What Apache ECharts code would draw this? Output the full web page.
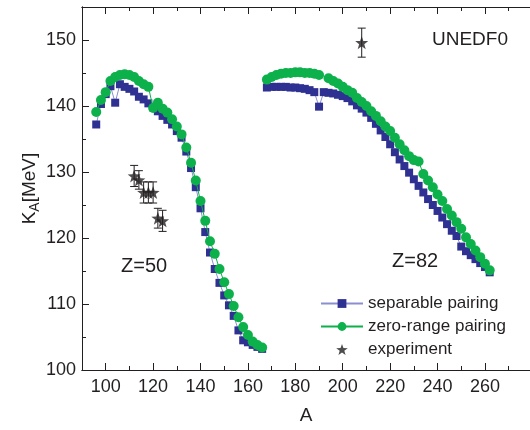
<!DOCTYPE html>
<html><head><meta charset="utf-8">
<script src="https://cdn.jsdelivr.net/npm/echarts@6/dist/echarts.min.js"></script>
<style>html,body{margin:0;padding:0;background:#fff}#c{width:530px;height:430px}</style>
</head><body><div id="c"></div>
<script>
// Z=50 chain
const aLeft = [96,98,100,102,104,106,108,110,112,114,116,118,120,122,124,126,128,130,132,134,136,138,140,142,144,146,148,150,152,154,156,158,160,162,164,166];
const sepLeft = [137.2,140.3,141.8,143.0,140.5,143.3,142.9,142.6,142.2,141.4,141.0,140.4,139.8,139.2,138.5,137.9,137.2,136.2,135.2,133.1,130.6,127.7,124.5,120.9,117.8,115.3,113.2,111.3,109.8,108.2,106.0,104.5,104.2,103.8,103.5,103.2];
const zeroLeft = [139.1,140.9,142.1,143.8,144.4,144.7,144.8,144.7,144.4,143.8,143.3,142.9,139.7,140.5,139.6,139.0,138.0,136.9,135.7,133.7,131.4,128.7,125.6,122.6,119.5,117.6,115.3,113.3,111.5,109.7,108.0,106.5,105.3,104.3,103.8,103.4];
// Z=82 chain
const aRight = [168,170,172,174,176,178,180,182,184,186,188,190,192,194,196,198,200,202,204,206,208,210,212,214,216,218,220,222,224,226,228,230,232,234,236,238,240,242,244,246,248,250,252,254,256,258,260,262];
const sepRight = [142.8,142.9,142.9,142.9,142.9,142.8,142.8,142.7,142.6,142.4,142.1,139.9,142.1,142.0,141.9,141.7,141.5,141.2,140.7,140.1,139.6,139.0,138.2,137.3,136.3,135.3,134.2,133.0,131.9,130.9,129.9,128.9,127.9,126.9,125.9,125.0,124.1,123.1,122.1,121.1,120.3,118.7,118.0,117.4,116.8,116.2,115.6,114.8];
const zeroRight = [144.0,144.4,144.7,144.9,145.0,145.0,145.1,145.1,145.0,145.0,144.9,144.7,null,144.2,143.8,143.4,142.9,142.4,142.0,141.2,140.6,140.0,139.2,138.5,137.7,136.9,136.2,135.2,134.2,133.3,132.4,131.8,131.6,129.7,128.7,127.7,126.6,125.6,124.4,123.4,122.4,121.4,120.1,119.1,118.1,117.1,116.1,115.1];
// experiment
const expA = [112,114,116,118,120,122,124,208];
const expK = [129.4,128.8,126.9,126.9,126.9,123.0,122.6,149.6];
const expErr = [1.6,1.4,1.6,1.6,1.6,1.5,1.6,2.2];
// ticks
const xMajor = [100,120,140,160,180,200,220,240,260,280];
const xLabels = [100,120,140,160,180,200,220,240,260];
const xMinor = [90,110,130,150,170,190,210,230,250,270];
const yMajor = [100,110,120,130,140,150];
const yMinor = [105,115,125,135,145,155];

function pairs(xs, ys){ return xs.map((x,i)=>[x, ys[i]==null ? '-' : ys[i]]); }
const sepData = pairs(aLeft, sepLeft).concat([[167,'-']], pairs(aRight, sepRight));
const zeroData = pairs(aLeft, zeroLeft).concat([[167,'-']], pairs(aRight, zeroRight));
const expData = expA.map((a,i)=>[a, expK[i]]);
const errData = expA.map((a,i)=>[a, expK[i]-expErr[i], expK[i]+expErr[i]]);

const FONT = 'Liberation Sans, Arial, sans-serif';
const TXT = '#231f20';
const STAR = 'path://M0,-10 L2.35,-3.24 L9.51,-3.09 L3.8,1.24 L5.88,8.09 L0,4 L-5.88,8.09 L-3.8,1.24 L-9.51,-3.09 L-2.35,-3.24 Z';
const X_MIN = 90, X_MAX = 279, Y_MIN = 100, Y_MAX = 155;
const line = {show:true, lineStyle:{color:'#231f20', width:1}};

function xAx(pos, ticks, len, labels, extra){
  return Object.assign({
    type:'value', position:pos, min:X_MIN, max:X_MAX, interval:10,
    axisLine: line, splitLine:{show:false},
    axisTick:{show:true, inside:true, length:len, customValues:ticks, lineStyle:{color:TXT,width:1}},
    axisLabel: labels ? {show:true, customValues:labels, fontSize:18, fontFamily:FONT, color:TXT, margin:8} : {show:false}
  }, extra||{});
}
function yAx(ticks, len, labels, extra){
  return Object.assign({
    type:'value', position:'left', min:Y_MIN, max:Y_MAX, interval:5,
    axisLine: line, splitLine:{show:false},
    axisTick:{show:true, inside:true, length:len, customValues:ticks, lineStyle:{color:TXT,width:1}},
    axisLabel: labels ? {show:true, customValues:labels, fontSize:18, fontFamily:FONT, color:TXT, margin:6} : {show:false}
  }, extra||{});
}

const chart = echarts.init(document.getElementById('c'), null, {renderer:'canvas'});
chart.setOption({
  animation:false,
  backgroundColor:'#fff',
  grid:{left:82, right:0, top:7, bottom:58, containLabel:false},
  xAxis:[
    xAx('bottom', xMajor, 7, xLabels, {name:'A', nameLocation:'middle', nameGap:36, nameMoveOverlap:false, nameTextStyle:{fontSize:19, fontFamily:FONT, color:TXT}}),
    xAx('bottom', xMinor, 4, null),
    xAx('top', xMajor, 7, null),
    xAx('top', xMinor, 4, null)
  ],
  yAxis:[
    yAx(yMajor, 7, yMajor, {name:'{k|K}{s|A}{k|[MeV]}', nameLocation:'middle', nameGap:40, nameMoveOverlap:false,
      nameTextStyle:{fontFamily:FONT, color:TXT, rich:{k:{fontSize:19, fontFamily:FONT, color:TXT}, s:{fontSize:14, fontFamily:FONT, color:TXT, padding:[10,0,0,0]}}}}),
    yAx(yMinor, 4, null)
  ],
  legend:{
    orient:'vertical', left:320, top:295, padding:0, itemWidth:42, itemHeight:11, itemGap:6,
    textStyle:{fontSize:17, fontFamily:FONT, color:TXT},
    data:['separable pairing','zero-range pairing',{name:'experiment', icon:STAR}]
  },
  graphic:[
    {type:'text', left:432, top:30, style:{text:'UNEDF0', fontSize:19, fontFamily:FONT, fill:TXT}},
    {type:'text', left:121, top:256, style:{text:'Z=50', fontSize:20, fontFamily:FONT, fill:TXT}},
    {type:'text', left:392, top:251, style:{text:'Z=82', fontSize:20, fontFamily:FONT, fill:TXT}}
  ],
  series:[
    {name:'separable pairing', type:'line', data:sepData, symbol:'rect', symbolSize:8,
      itemStyle:{color:'#2e3192'}, lineStyle:{color:'#8b8fd0', width:1}, connectNulls:false, z:2},
    {name:'zero-range pairing', type:'line', data:zeroData, symbol:'circle', symbolSize:10,
      itemStyle:{color:'#0db14b'}, lineStyle:{color:'#0db14b', width:1}, connectNulls:false, z:3},
    {name:'experiment-err', type:'custom', data:errData, z:4,
      renderItem:function(params, api){
        const x = api.value(0);
        const lo = api.coord([x, api.value(1)]);
        const hi = api.coord([x, api.value(2)]);
        const w = 4;
        const st = {stroke:'#231f20', lineWidth:1};
        return {type:'group', children:[
          {type:'line', shape:{x1:lo[0],y1:lo[1],x2:hi[0],y2:hi[1]}, style:st},
          {type:'line', shape:{x1:lo[0]-w,y1:lo[1],x2:lo[0]+w,y2:lo[1]}, style:st},
          {type:'line', shape:{x1:hi[0]-w,y1:hi[1],x2:hi[0]+w,y2:hi[1]}, style:st}
        ]};
      }},
    {name:'experiment', type:'scatter', data:expData, symbol:STAR, symbolSize:13,
      itemStyle:{color:'#231f20'}, z:5}
  ]
});
</script></body></html>
